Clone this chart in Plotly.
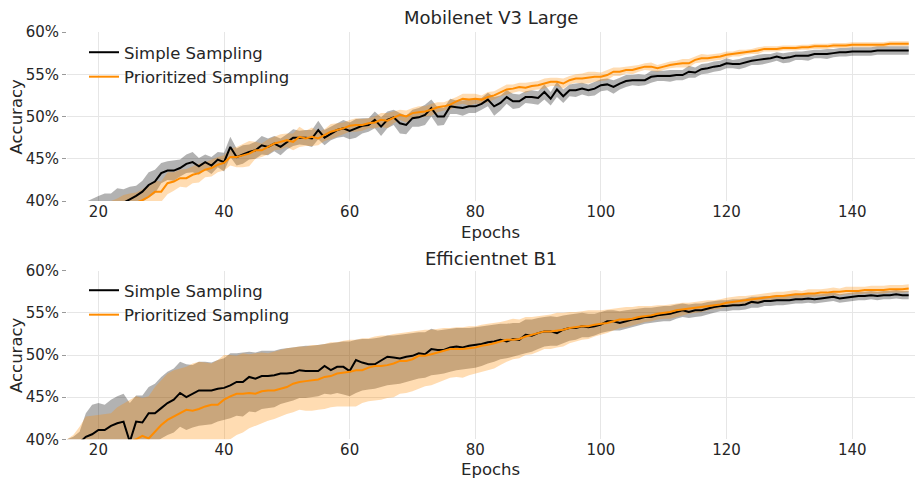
import plotly.graph_objects as go

epochs = list(range(15, 150))

# ---------- Mobilenet V3 Large ----------
mob_simple_mean = [37.0, 37.5, 37.9, 38.3, 38.6,
    38.9, 39.1, 39.3, 39.6, 39.8, 40.2, 40.6, 41.1, 41.9, 42.3,
    43.3, 43.6, 43.6, 43.9, 44.4, 44.6, 44.1, 44.6, 44.2, 44.9,
    44.6, 46.4, 45.2, 45.5, 45.8, 46.0, 46.6, 46.4, 46.8, 46.4,
    47.0, 47.5, 47.5, 47.5, 47.4, 48.4, 47.5, 48.0, 48.4, 48.6,
    48.3, 48.6, 48.9, 49.0, 49.6, 48.8, 49.6, 49.9, 49.2, 49.0,
    49.8, 49.9, 50.2, 51.0, 50.0, 50.0, 51.2, 51.1, 51.0, 51.2,
    51.2, 51.5, 52.0, 51.2, 51.6, 52.3, 51.8, 51.8, 52.3, 52.3,
    52.2, 52.9, 52.1, 53.2, 52.4, 53.1, 53.1, 53.3, 53.1, 53.3,
    53.7, 53.8, 53.5, 53.9, 54.2, 54.3, 54.3, 54.3, 54.7, 54.8,
    54.8, 54.8, 54.9, 54.9, 55.3, 55.2, 55.6, 55.7, 55.9, 56.0,
    56.3, 56.2, 56.2, 56.4, 56.6, 56.7, 56.8, 56.9, 57.1, 56.9,
    57.0, 57.2, 57.2, 57.2, 57.4, 57.4, 57.4, 57.5, 57.6, 57.6,
    57.7, 57.7, 57.7, 57.7, 57.8, 57.8, 57.8, 57.8, 57.8, 57.8]
mob_simple_std = [1.3, 1.4, 1.5, 1.6, 1.7,
    1.7, 1.8, 1.6, 1.9, 1.6, 1.5, 1.2, 1.3, 1.5, 1.4,
    1.2, 1.1, 1.2, 1.0, 1.1, 1.2, 1.0, 0.9, 1.0, 0.9,
    1.1, 1.2, 1.0, 1.1, 0.9, 1.0, 1.1, 1.0, 0.9, 1.0,
    0.9, 1.0, 0.8, 0.9, 1.0, 1.1, 0.9, 0.8, 0.9, 1.0,
    1.0, 1.1, 0.9, 0.8, 1.0, 1.1, 1.0, 0.9, 1.2, 1.1,
    1.0, 1.1, 1.2, 1.0, 1.1, 1.0, 0.9, 0.8, 0.9, 0.8,
    0.8, 0.7, 0.8, 1.1, 0.9, 0.8, 0.9, 0.8, 0.7, 0.8,
    0.8, 0.9, 0.8, 0.9, 0.8, 0.7, 0.8, 0.7, 0.7, 0.8,
    0.7, 0.7, 0.8, 0.7, 0.7, 0.6, 0.7, 0.6, 0.7, 0.6,
    0.6, 0.7, 0.6, 0.6, 0.7, 0.6, 0.6, 0.6, 0.6, 0.6,
    0.6, 0.5, 0.6, 0.6, 0.5, 0.6, 0.6, 0.5, 0.5, 0.6,
    0.6, 0.5, 0.5, 0.6, 0.5, 0.5, 0.6, 0.5, 0.5, 0.5,
    0.5, 0.5, 0.5, 0.5, 0.5, 0.5, 0.5, 0.5, 0.5, 0.5]
mob_prior_mean = [35.0, 35.6, 36.2, 36.8, 37.3,
    37.8, 38.2, 38.6, 39.0, 39.3, 39.6, 39.8, 40.1, 40.5, 41.1,
    41.1, 42.1, 42.3, 42.7, 42.7, 43.1, 43.3, 43.7, 43.9, 44.3,
    44.5, 45.2, 45.2, 45.4, 45.6, 46.0, 46.0, 46.4, 46.8, 47.0,
    47.2, 47.0, 47.6, 47.4, 47.6, 47.4, 47.8, 48.2, 48.4, 48.6,
    48.9, 49.0, 49.0, 49.2, 49.3, 49.6, 49.5, 49.9, 50.2, 50.0,
    50.4, 50.5, 50.6, 50.8, 51.1, 51.2, 51.4, 51.8, 52.1, 52.0,
    52.1, 52.0, 52.3, 52.5, 52.9, 53.2, 53.3, 53.5, 53.4, 53.6,
    53.7, 53.9, 54.1, 54.1, 53.9, 54.3, 54.5, 54.5, 54.6, 54.7,
    54.7, 54.9, 55.3, 55.3, 55.5, 55.5, 55.7, 55.9, 55.9, 55.7,
    55.9, 56.1, 56.2, 56.3, 56.3, 56.7, 56.9, 56.9, 57.0, 57.1,
    57.3, 57.4, 57.5, 57.6, 57.7, 57.8, 58.0, 58.0, 58.0, 58.1,
    58.1, 58.1, 58.2, 58.2, 58.3, 58.3, 58.3, 58.4, 58.4, 58.4,
    58.5, 58.5, 58.5, 58.5, 58.5, 58.5, 58.6, 58.6, 58.6, 58.6]
mob_prior_std = [1.2, 1.2, 1.3, 1.3, 1.3,
    1.3, 1.4, 1.4, 1.3, 1.4, 1.3, 1.2, 1.3, 1.4, 1.3,
    1.2, 1.3, 1.1, 1.0, 1.1, 1.0, 1.1, 0.9, 1.0, 0.9,
    0.9, 1.0, 1.2, 1.4, 1.5, 1.0, 0.8, 0.9, 0.8, 0.9,
    0.8, 1.0, 1.2, 0.9, 1.1, 0.8, 0.7, 0.9, 0.8, 0.7,
    0.7, 0.8, 0.7, 0.6, 0.7, 0.8, 0.9, 0.7, 0.6, 0.7,
    0.6, 0.7, 0.6, 0.7, 0.6, 0.5, 0.6, 0.5, 0.6, 0.7,
    0.6, 0.5, 0.6, 0.5, 0.5, 0.6, 0.5, 0.5, 0.6, 0.5,
    0.5, 0.6, 0.5, 0.5, 0.6, 0.5, 0.5, 0.6, 0.7, 0.6,
    0.5, 0.6, 0.5, 0.5, 0.4, 0.5, 0.4, 0.4, 0.5, 0.4,
    0.4, 0.4, 0.4, 0.5, 0.5, 0.4, 0.5, 0.4, 0.4, 0.4,
    0.4, 0.3, 0.4, 0.3, 0.3, 0.4, 0.3, 0.3, 0.3, 0.3,
    0.3, 0.3, 0.3, 0.3, 0.3, 0.3, 0.3, 0.3, 0.3, 0.3,
    0.3, 0.3, 0.3, 0.3, 0.3, 0.3, 0.3, 0.3, 0.3, 0.3]

# ---------- Efficientnet B1 ----------
eff_simple_mean = [38.5, 39.0, 39.6, 40.3, 40.6,
    41.1, 41.1, 41.6, 41.9, 42.1, 39.7, 42.1, 42.0, 43.1, 43.1,
    43.7, 44.3, 44.7, 45.5, 45.0, 45.4, 45.8, 45.8, 45.8, 46.0,
    46.1, 46.4, 46.8, 46.8, 47.4, 47.2, 47.5, 47.5, 47.6, 47.8,
    47.8, 47.9, 48.2, 48.1, 48.1, 48.1, 48.7, 48.2, 48.6, 48.6,
    48.1, 49.4, 49.1, 48.9, 48.9, 49.3, 49.8, 49.7, 49.6, 49.8,
    49.9, 50.2, 50.1, 50.7, 50.6, 50.6, 50.9, 51.0, 50.9, 51.1,
    51.2, 51.3, 51.5, 51.6, 51.8, 51.6, 51.9, 51.8, 52.4, 52.3,
    52.6, 52.8, 52.8, 52.6, 53.0, 53.2, 53.2, 53.4, 53.3, 53.4,
    53.6, 54.0, 54.0, 53.8, 54.0, 54.2, 54.3, 54.5, 54.5, 54.7,
    54.8, 54.9, 55.1, 55.3, 55.1, 55.3, 55.3, 55.5, 55.7, 55.8,
    55.8, 55.9, 55.9, 56.0, 56.3, 56.2, 56.4, 56.4, 56.5, 56.5,
    56.5, 56.6, 56.6, 56.7, 56.6, 56.7, 56.8, 56.9, 56.7, 56.8,
    56.9, 57.0, 57.0, 57.1, 57.0, 57.1, 57.1, 57.2, 57.1, 57.1]
eff_simple_up = [1.5, 1.3, 1.3, 2.8, 3.5,
    3.2, 3.0, 3.1, 3.2, 3.3, 4.6, 3.1, 3.2, 3.1, 3.5,
    3.7, 3.7, 3.7, 3.7, 3.9, 3.4, 3.4, 3.4, 3.3, 3.4,
    3.5, 3.8, 3.4, 3.5, 3.0, 3.1, 3.0, 3.0, 2.9, 2.9,
    3.0, 3.0, 2.8, 3.0, 3.0, 3.1, 2.6, 3.2, 2.9, 3.0,
    3.5, 2.4, 2.8, 3.0, 3.1, 2.8, 2.5, 2.6, 2.8, 2.7,
    2.7, 2.5, 2.6, 2.4, 2.3, 2.4, 2.2, 2.2, 2.3, 2.1,
    2.1, 2.1, 2.0, 2.0, 1.9, 2.1, 1.9, 2.0, 1.8, 1.9,
    1.8, 1.7, 1.8, 1.9, 1.7, 1.6, 1.7, 1.6, 1.6, 1.5,
    1.5, 1.3, 1.3, 1.4, 1.3, 1.2, 1.2, 1.1, 1.1, 1.0,
    1.0, 0.9, 0.9, 0.8, 0.9, 0.8, 0.8, 0.8, 0.7, 0.7,
    0.7, 0.7, 0.7, 0.7, 0.6, 0.7, 0.6, 0.6, 0.6, 0.6,
    0.6, 0.6, 0.6, 0.5, 0.6, 0.5, 0.5, 0.5, 0.5, 0.5,
    0.5, 0.5, 0.5, 0.5, 0.5, 0.5, 0.5, 0.5, 0.5, 0.5]
eff_simple_dn = [1.5, 1.5, 1.6, 3.0, 3.5,
    3.3, 3.2, 3.3, 3.4, 3.5, 3.0, 3.4, 3.5, 3.6, 3.6,
    3.6, 3.8, 3.9, 4.0, 3.9, 4.0, 4.2, 4.1, 4.0, 3.9,
    3.8, 3.9, 4.0, 4.1, 4.1, 4.0, 3.9, 3.8, 3.8, 3.6,
    3.4, 3.3, 3.3, 3.2, 3.1, 3.0, 3.3, 2.9, 3.1, 3.3,
    3.0, 3.9, 3.3, 3.0, 2.9, 3.1, 3.4, 3.2, 3.0, 3.0,
    2.9, 3.0, 2.8, 3.1, 2.9, 2.8, 2.9, 2.8, 2.6, 2.7,
    2.7, 2.6, 2.5, 2.4, 2.3, 2.0, 2.1, 1.8, 2.2, 1.9,
    1.9, 1.8, 1.7, 1.5, 1.6, 1.5, 1.4, 1.3, 1.2, 1.1,
    1.0, 1.2, 1.1, 0.9, 0.9, 0.9, 0.8, 0.8, 0.7, 0.8,
    0.8, 0.9, 0.8, 0.8, 0.7, 0.8, 0.7, 0.7, 0.7, 0.6,
    0.6, 0.6, 0.6, 0.6, 0.7, 0.6, 0.6, 0.6, 0.6, 0.6,
    0.5, 0.5, 0.5, 0.5, 0.5, 0.5, 0.5, 0.5, 0.5, 0.5,
    0.5, 0.5, 0.5, 0.5, 0.5, 0.5, 0.5, 0.5, 0.5, 0.5]
eff_prior_mean = [35.5, 36.0, 36.5, 37.0, 37.4,
    37.8, 38.2, 38.6, 39.0, 39.4, 39.7, 40.0, 40.4, 40.1, 40.9,
    41.7, 42.3, 42.7, 43.0, 43.5, 43.4, 43.6, 43.9, 44.1, 44.1,
    44.7, 45.1, 45.4, 45.4, 45.5, 45.4, 45.7, 45.8, 45.8, 46.0,
    46.2, 46.6, 46.8, 46.9, 47.0, 47.1, 47.4, 47.5, 47.8, 47.9,
    48.0, 48.2, 48.2, 48.5, 48.7, 48.7, 48.8, 49.0, 49.3, 49.3,
    49.5, 49.9, 49.9, 50.1, 50.3, 50.5, 50.7, 50.7, 50.7, 50.8,
    50.9, 51.1, 51.2, 51.4, 51.6, 51.8, 51.8, 51.9, 52.2, 52.4,
    52.6, 52.8, 52.8, 52.9, 53.0, 53.2, 53.3, 53.4, 53.4, 53.6,
    53.7, 53.8, 54.0, 54.2, 54.2, 54.3, 54.5, 54.6, 54.7, 54.9,
    55.0, 55.1, 55.3, 55.4, 55.5, 55.6, 55.7, 55.8, 55.9, 56.0,
    56.2, 56.3, 56.4, 56.5, 56.6, 56.7, 56.8, 56.9, 57.0, 57.0,
    57.1, 57.2, 57.2, 57.3, 57.3, 57.4, 57.4, 57.5, 57.5, 57.6,
    57.6, 57.6, 57.7, 57.7, 57.7, 57.7, 57.8, 57.8, 57.8, 57.9]
eff_prior_up = [4.5, 4.5, 5.0, 5.7, 5.4,
    5.1, 4.8, 4.5, 4.8, 4.8, 5.0, 5.1, 4.5, 5.0, 5.3,
    5.3, 5.5, 5.5, 5.4, 5.1, 5.6, 5.6, 5.2, 4.9, 5.3,
    5.3, 4.9, 4.5, 4.8, 4.6, 4.8, 4.6, 4.4, 4.6, 4.6,
    4.6, 4.3, 4.2, 4.1, 4.2, 4.1, 3.9, 4.0, 3.7, 3.8,
    3.8, 3.6, 3.8, 3.5, 3.5, 3.6, 3.5, 3.5, 3.3, 3.4,
    3.3, 3.0, 3.1, 2.9, 2.8, 2.7, 2.5, 2.6, 2.6, 2.6,
    2.5, 2.5, 2.5, 2.4, 2.3, 2.3, 2.5, 2.3, 2.3, 2.1,
    2.0, 1.9, 2.0, 2.1, 2.0, 1.9, 1.8, 1.8, 1.9, 1.7,
    1.6, 1.6, 1.5, 1.4, 1.5, 1.4, 1.3, 1.2, 1.1, 1.0,
    0.9, 0.9, 0.8, 0.8, 0.7, 0.7, 0.7, 0.7, 0.6, 0.6,
    0.6, 0.6, 0.6, 0.5, 0.5, 0.5, 0.5, 0.5, 0.5, 0.5,
    0.5, 0.5, 0.4, 0.5, 0.5, 0.4, 0.5, 0.5, 0.4, 0.5,
    0.5, 0.5, 0.4, 0.5, 0.5, 0.5, 0.5, 0.5, 0.5, 0.5]
eff_prior_dn = [4.5, 4.5, 5.0, 5.2, 5.2,
    5.1, 4.8, 4.6, 4.8, 4.8, 5.0, 5.1, 4.6, 5.0, 5.2,
    5.3, 5.4, 5.4, 5.4, 5.2, 5.5, 5.5, 5.2, 5.0, 5.2,
    5.0, 5.1, 4.9, 4.6, 4.2, 3.8, 3.8, 3.6, 3.4, 3.3,
    3.2, 3.4, 3.3, 3.5, 3.6, 3.6, 3.8, 3.7, 3.9, 4.0,
    4.1, 4.3, 3.9, 4.0, 4.1, 4.0, 3.9, 4.0, 3.9, 3.8,
    3.8, 3.9, 3.6, 3.7, 3.6, 3.5, 3.4, 3.3, 3.4, 3.2,
    3.1, 3.1, 3.0, 3.0, 2.8, 2.6, 2.3, 2.3, 2.2, 2.3,
    2.2, 2.1, 2.1, 2.0, 2.0, 1.8, 1.7, 1.6, 1.5, 1.4,
    1.3, 1.2, 1.1, 1.0, 0.9, 0.8, 0.8, 0.7, 0.7, 0.7,
    0.7, 0.8, 0.8, 0.7, 0.6, 0.6, 0.6, 0.5, 0.5, 0.5,
    0.5, 0.5, 0.5, 0.5, 0.5, 0.5, 0.5, 0.4, 0.4, 0.4,
    0.4, 0.4, 0.4, 0.4, 0.4, 0.4, 0.4, 0.4, 0.4, 0.4,
    0.4, 0.4, 0.4, 0.4, 0.4, 0.4, 0.4, 0.4, 0.4, 0.4]

series_names = ["Simple Sampling", "Prioritized Sampling"]
panel_titles = ["Mobilenet V3 Large", "Efficientnet B1"]
y_ticks = [40, 45, 50, 55, 60]
y_tick_labels = ["40%", "45%", "50%", "55%", "60%"]
x_ticks = [20, 40, 60, 80, 100, 120, 140]

for arr in [mob_simple_mean, mob_simple_std, mob_prior_mean, mob_prior_std,
            eff_simple_mean, eff_simple_up, eff_simple_dn,
            eff_prior_mean, eff_prior_up, eff_prior_dn]:
    assert len(arr) == len(epochs), len(arr)

BLACK = "#000000"
ORANGE = "#ff8c00"
GRAY_FILL = "rgba(0,0,0,0.3)"
ORANGE_FILL = "rgba(255,140,0,0.3)"
TXT = "#262626"
FONT = "DejaVu Sans"

fig = go.Figure()


def band(mean, up, dn, color, xa, ya):
    hi = [m + u for m, u in zip(mean, up)]
    lo = [m - d for m, d in zip(mean, dn)]
    fig.add_trace(go.Scatter(
        x=epochs + epochs[::-1], y=hi + lo[::-1], fill="toself",
        fillcolor=color, line=dict(width=0), mode="lines",
        hoverinfo="skip", showlegend=False, xaxis=xa, yaxis=ya))


def line(mean, name, color, xa, ya, leg):
    fig.add_trace(go.Scatter(
        x=epochs, y=mean, mode="lines", name=name,
        line=dict(color=color, width=2), xaxis=xa, yaxis=ya, legend=leg))


# top panel
band(mob_simple_mean, mob_simple_std, mob_simple_std, GRAY_FILL, "x", "y")
band(mob_prior_mean, mob_prior_std, mob_prior_std, ORANGE_FILL, "x", "y")
line(mob_simple_mean, series_names[0], BLACK, "x", "y", "legend")
line(mob_prior_mean, series_names[1], ORANGE, "x", "y", "legend")
# bottom panel
band(eff_simple_mean, eff_simple_up, eff_simple_dn, GRAY_FILL, "x2", "y2")
band(eff_prior_mean, eff_prior_up, eff_prior_dn, ORANGE_FILL, "x2", "y2")
line(eff_simple_mean, series_names[0], BLACK, "x2", "y2", "legend2")
line(eff_prior_mean, series_names[1], ORANGE, "x2", "y2", "legend2")

W, H = 916, 480
xdom = [67 / W, 915 / W]
top_dom = [1 - 201 / H, 1 - 32 / H]
bot_dom = [1 - 439.3 / H, 1 - 270.7 / H]

xcommon = dict(range=[15, 150], tickvals=x_ticks, showgrid=True, gridcolor="#e6e6e6",
               gridwidth=1, zeroline=False, showline=False, ticks="",
               tickfont=dict(family=FONT, size=15, color=TXT),
               domain=xdom, automargin=False)
ycommon = dict(range=[40, 60], tickvals=y_ticks, ticktext=y_tick_labels, showgrid=True,
               gridcolor="#e6e6e6", gridwidth=1, zeroline=False, showline=False,
               ticks="outside", ticklen=4, tickcolor="#9a9a9a", automargin=False,
               tickfont=dict(family=FONT, size=15, color=TXT))

legcommon = dict(x=84 / W, xanchor="left", yanchor="top", bgcolor="rgba(0,0,0,0)",
                 font=dict(family=FONT, size=16.5, color=TXT), tracegroupgap=0)

annotations = []
for title, ty in zip(panel_titles, [18, 258]):
    annotations.append(dict(text=title, x=491 / W, y=1 - ty / H, xref="paper", yref="paper",
                            xanchor="center", yanchor="middle", showarrow=False,
                            font=dict(family=FONT, size=18, color=TXT)))
for ty in [232, 469]:
    annotations.append(dict(text="Epochs", x=491 / W, y=1 - ty / H, xref="paper", yref="paper",
                            xanchor="center", yanchor="middle", showarrow=False,
                            font=dict(family=FONT, size=16.5, color=TXT)))
for ty in [116.5, 355]:
    annotations.append(dict(text="Accuracy", x=16 / W, y=1 - ty / H, xref="paper", yref="paper",
                            xanchor="center", yanchor="middle", showarrow=False, textangle=-90,
                            font=dict(family=FONT, size=16.5, color=TXT)))

fig.update_layout(
    width=W, height=H, margin=dict(l=0, r=0, t=0, b=0, autoexpand=False),
    paper_bgcolor="white", plot_bgcolor="white",
    xaxis=dict(anchor="y", **xcommon),
    yaxis=dict(anchor="x", domain=top_dom, **ycommon),
    xaxis2=dict(anchor="y2", **xcommon),
    yaxis2=dict(anchor="x2", domain=bot_dom, **ycommon),
    legend=dict(y=1 - 35 / H, **legcommon),
    legend2=dict(y=1 - 273 / H, **legcommon),
    annotations=annotations,
    font=dict(family=FONT, color=TXT),
)

fig.write_html("out.html", config={"displayModeBar": False},
               post_script="document.body.style.margin='0';document.body.style.padding='0';")
